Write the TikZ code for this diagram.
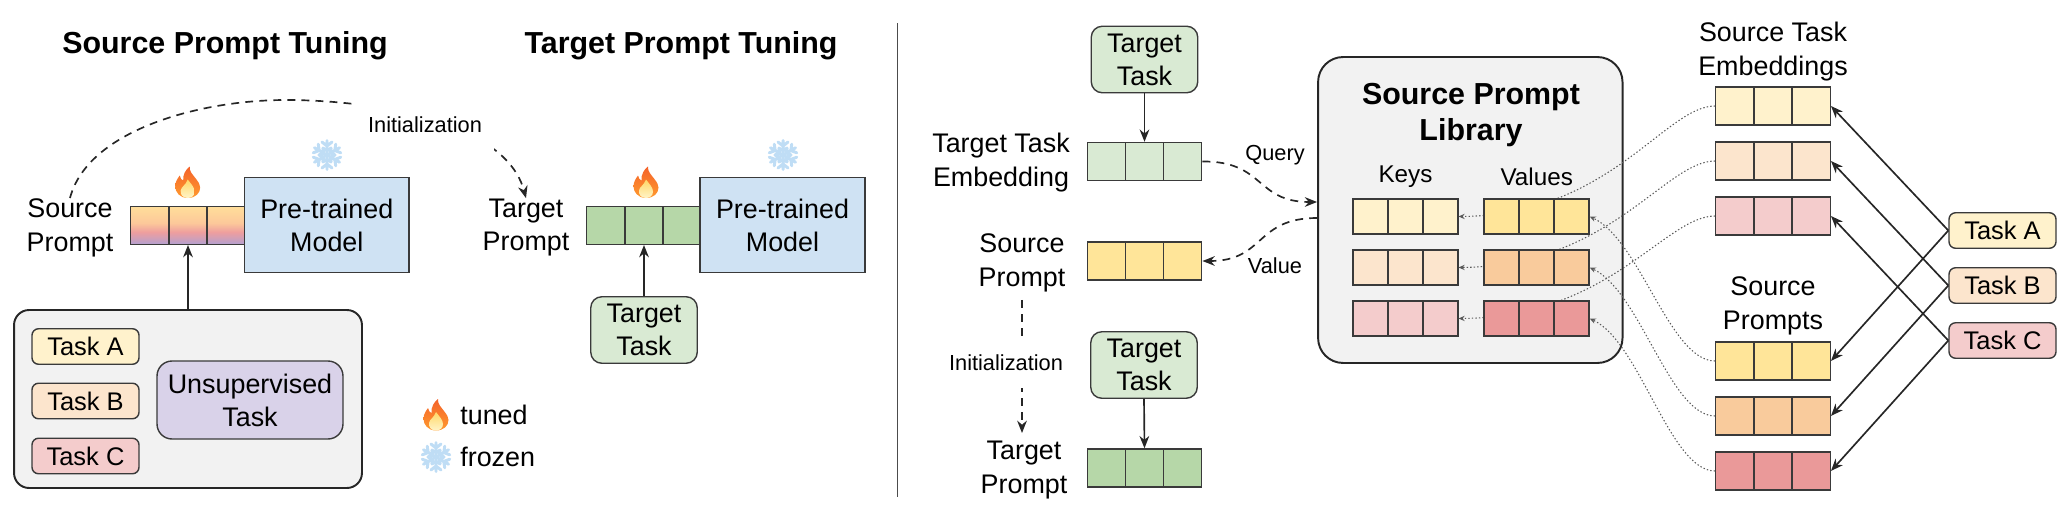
\documentclass[tikz,border=0pt]{standalone}
\usepackage{fontspec}
\setmainfont{Liberation Sans}
\usetikzlibrary{calc,arrows.meta}
\definecolor{lineclr}{HTML}{3A3A3A}
\definecolor{yellowlt}{HTML}{FFF2CC}
\definecolor{yellowdk}{HTML}{FFE599}
\definecolor{orangelt}{HTML}{FCE5CD}
\definecolor{orangedk}{HTML}{F9CB9C}
\definecolor{redlt}{HTML}{F4CCCC}
\definecolor{reddk}{HTML}{EA9999}
\definecolor{greenlt}{HTML}{D9EAD3}
\definecolor{greendk}{HTML}{B6D7A8}
\definecolor{bluelt}{HTML}{CFE2F3}
\definecolor{purplelt}{HTML}{D9D2E9}
\definecolor{panelclr}{HTML}{F2F2F2}
\definecolor{gradbottom}{HTML}{B4A0D0}
\definecolor{gradpink}{HTML}{EE9E9E}
\definecolor{gradmid}{HTML}{FCC89A}
\definecolor{gradtop}{HTML}{FFDE9A}
\definecolor{flameout}{HTML}{F4622A}
\definecolor{flamelow}{HTML}{FF9A2E}
\definecolor{flamein}{HTML}{FFD766}
\definecolor{flamecore}{HTML}{FFF4C8}
\definecolor{snowclr}{HTML}{BFDDF5}
\pgfdeclareverticalshading{sourcegrad}{100bp}{
    color(0bp)=(gradbottom);
    color(25bp)=(gradbottom);
    color(41bp)=(gradpink);
    color(53bp)=(gradmid);
    color(75bp)=(gradtop);
    color(100bp)=(gradtop)
}
\tikzset{
    txt/.style = {
        align = center,
        inner sep = 0pt,
        font = \fontsize{15.3}{19.3}\selectfont
    },
    small txt/.style = {
        align = center,
        inner sep = 0pt,
        font = \fontsize{12.4}{15}\selectfont
    },
    heading/.style = {
        align = center,
        inner sep = 0pt,
        font = \fontsize{17.3}{21}\selectfont\bfseries
    },
    tensor/.style = {
        shape = rectangle,
        draw  = lineclr,
        fill  = #1,
        line width = 0.8pt,
        minimum width = 2.29cm,
        minimum height = 0.76cm,
        inner sep = 0pt,
        path picture = {
            \draw [lineclr, line width = 0.8pt]
                ($(path picture bounding box.south west)!1/3!(path picture bounding box.south east)$) --
                ($(path picture bounding box.north west)!1/3!(path picture bounding box.north east)$)
                ($(path picture bounding box.south west)!2/3!(path picture bounding box.south east)$) --
                ($(path picture bounding box.north west)!2/3!(path picture bounding box.north east)$);
        }
    },
    lib tensor/.style = {
        tensor = #1,
        minimum width = 2.10cm,
        minimum height = 0.70cm
    },
    round box/.style = {
        shape = rectangle,
        align = center,
        draw  = lineclr,
        fill  = #1,
        line width = 0.8pt,
        rounded corners = 0.22cm,
        inner sep = 0pt,
        font = \fontsize{15.3}{18.8}\selectfont
    },
    task box/.style = {
        round box = #1,
        rounded corners = 0.13cm,
        minimum width = 2.14cm,
        minimum height = 0.71cm,
        font = \fontsize{14.5}{18}\selectfont
    },
    target box/.style = {
        round box = greenlt,
        minimum width = 2.13cm,
        minimum height = 1.33cm
    },
    model box/.style = {
        shape = rectangle,
        align = center,
        draw  = lineclr,
        fill  = bluelt,
        line width = 0.9pt,
        minimum width = 3.29cm,
        minimum height = 1.90cm,
        font = \fontsize{15.3}{18.8}\selectfont
    },
    panel/.style = {
        shape = rectangle,
        draw  = black!85,
        fill  = panelclr,
        line width = 1.1pt
    },
    arrow/.style = {
        -{Stealth[length=7pt,width=5.5pt]},
        line width = 0.95pt,
        draw = black!85
    },
    dash arrow/.style = {
        arrow,
        dash pattern = on 4.5pt off 3.5pt
    },
    dot arrow/.style = {
        -{Stealth[length=3.5pt,width=3pt]},
        line width = 0.6pt,
        draw = black!65,
        dash pattern = on 0.8pt off 1.2pt
    },
    flame/.pic = {
        \shade [bottom color = flamelow, top color = flameout]
            (0,15.5) .. controls (-8,15.5) and (-12.5,9.5) .. (-12.5,4)
            .. controls (-12.5,-1) and (-10,-4) .. (-8,-7)
            .. controls (-7.5,-4) and (-6,-2.5) .. (-4.5,-2)
            .. controls (-5,-8) and (-2,-13) .. (2,-16)
            .. controls (1.5,-11) and (5,-8) .. (8,-4)
            .. controls (11,0) and (12.5,2) .. (12.5,5)
            .. controls (12.5,10.5) and (8,15.5) .. (0,15.5) -- cycle;
        \shade [bottom color = flamecore, top color = flamein]
            (0,15.5) .. controls (-5,15.5) and (-7.5,12) .. (-7,8)
            .. controls (-6.5,4) and (-2,3) .. (0,-3)
            .. controls (3,1) and (7,5) .. (7,9)
            .. controls (7,13) and (4,15.5) .. (0,15.5) -- cycle;
    },
    flake/.pic = {
        \foreach \ang in {0,60,...,300} {
            \draw [rotate = \ang, snowclr, line width = 1.7pt, line cap = round]
                (0,0) -- (0,-14.5) (0,-9) -- (-5,-13) (0,-9) -- (5,-13)
                (0,-4) -- (-4,-7) (0,-4) -- (4,-7);
        }
    }
}

\begin{document}
\begin{tikzpicture}[x=0.02cm, y=-0.02cm]
    \useasboundingbox (0,0) rectangle (2065,507);

    % left half
    \node (title source) at (225,45.5) [heading] {Source Prompt Tuning};
    \node (title target) at (681,45.5) [heading] {Target Prompt Tuning};

    \node (source label) at (70,227.5) [txt] {Source\\Prompt};
    \node (source tensor) at (188,225.3) [tensor = white, shading = sourcegrad] {};
    \node (model a) at (326.8,225) [model box] {Pre-trained\\Model};
    \pic at (187.7,182.5) {flame};
    \pic at (327,155) {flake};

    \node (target label) at (526,227.5) [txt] {Target\\Prompt};
    \node (target tensor) at (644,225.3) [tensor = greendk] {};
    \node (model b) at (782.5,225) [model box] {Pre-trained\\Model};
    \pic at (646,182.5) {flame};
    \pic at (783,155) {flake};

    \draw [dash arrow] (source label.north) .. controls (88,130) and (200,100) .. (286,100)
        .. controls (370,100) and (505,120) .. (target label.north);
    \node (init a) at (425,125) [small txt, fill = white, minimum width = 2.76cm, minimum height = 1.04cm] {Initialization};

    \node (task panel) at (188,399) [panel, rounded corners = 0.3cm, minimum width = 6.96cm, minimum height = 3.56cm] {};
    \node (task a) at (85.5,346.5) [task box = yellowlt] {Task A};
    \node (task b) at (85.5,401) [task box = orangelt] {Task B};
    \node (task c) at (85.5,456) [task box = redlt] {Task C};
    \node (unsup) at (250,400) [round box = purplelt, rounded corners = 0.3cm, minimum width = 3.72cm, minimum height = 1.56cm] {Unsupervised\\Task};
    \node (target task a) at (644,330) [target box] {Target\\Task};

    \draw [arrow] (task panel.north -| source tensor) -- (source tensor.south);
    \draw [arrow] (target task a.north) -- (target tensor.south);

    \pic at (436,415) {flame};
    \node (tuned) at (460,415) [txt, anchor = west] {tuned};
    \pic at (436,457) {flake};
    \node (frozen) at (460,457) [txt, anchor = west] {frozen};

    % divider
    \coordinate (divider top) at (897.5,23);
    \coordinate (divider bottom) at (897.5,497);
    \draw [black!70, line width = 0.9pt] (divider top) -- (divider bottom);

    % query side
    \node (target task b) at (1144.5,59.5) [target box] {Target\\Task};
    \node (target emb) at (1144.5,161.5) [tensor = greenlt] {};
    \node (target emb label) at (1001,163) [txt] {Target Task\\Embedding};
    \node (found prompt) at (1144.5,261) [tensor = yellowdk] {};
    \node (found label) at (1022,262.5) [txt] {Source\\Prompt};
    \node (target task c) at (1144,365) [target box] {Target\\Task};
    \node (tuned prompt) at (1144.5,468) [tensor = greendk] {};
    \node (tuned label) at (1024,470) [txt] {Target\\Prompt};

    \draw [arrow] (target task b.south) -- (target emb.north);
    \draw [arrow] (target task c.south) -- (tuned prompt.north);
    \draw [dash arrow] (found label.south) ++(0,8) coordinate (init start) -- (1022,433);
    \node (init b) at (1006,363) [small txt, fill = white, minimum height = 1cm, minimum width = 2.3cm] {Initialization};

    % library
    \node (library) at (1470.3,210) [panel, rounded corners = 0.5cm, minimum width = 6.09cm, minimum height = 6.12cm] {};
    \node (library title) at (1471,115) [heading] {Source Prompt\\Library};
    \node (keys) at (1405.5,177) [txt, font = \fontsize{13.8}{17}\selectfont] {Keys};
    \node (values) at (1536.7,177) [txt, font = \fontsize{13.8}{17}\selectfont] {Values};

    \node (key a) at (1405.3,216.5) [lib tensor = yellowlt] {};
    \node (key b) at (1405.3,267.5) [lib tensor = orangelt] {};
    \node (key c) at (1405.3,318.5) [lib tensor = redlt] {};

    % source tasks
    \node (emb label) at (1773,52) [txt] {Source Task\\Embeddings};
    \node (emb a) at (1773,106) [tensor = yellowlt] {};
    \node (emb b) at (1773,161) [tensor = orangelt] {};
    \node (emb c) at (1773,216) [tensor = redlt] {};
    \node (prompts label) at (1773,306) [txt] {Source\\Prompts};
    \node (prompt a) at (1773,361) [tensor = yellowdk] {};
    \node (prompt b) at (1773,416) [tensor = orangedk] {};
    \node (prompt c) at (1773,471) [tensor = reddk] {};

    \node (src a) at (2002.5,230.5) [task box = yellowlt] {Task A};
    \node (src b) at (2002.5,285.5) [task box = orangelt] {Task B};
    \node (src c) at (2002.5,340.5) [task box = redlt] {Task C};

    % these pass behind the value rows
    \draw [dot arrow] (emb a.west) .. controls (1665,106) and (1610,215) .. (key a.east);
    \draw [dot arrow] (emb b.west) .. controls (1665,161) and (1610,266) .. (key b.east);
    \draw [dot arrow] (emb c.west) .. controls (1665,216) and (1610,317) .. (key c.east);

    \node (value a) at (1536.5,216.5) [lib tensor = yellowdk] {};
    \node (value b) at (1536.5,267.5) [lib tensor = orangedk] {};
    \node (value c) at (1536.5,318.5) [lib tensor = reddk] {};

    \draw [dot arrow] (prompt a.west) .. controls (1670,361) and (1640,240) .. (value a.east);
    \draw [dot arrow] (prompt b.west) .. controls (1670,416) and (1640,291) .. (value b.east);
    \draw [dot arrow] (prompt c.west) .. controls (1670,471) and (1640,342) .. (value c.east);

    \draw [arrow] (src a.west) -- (emb a.east);
    \draw [arrow] (src b.west) -- (emb b.east);
    \draw [arrow] (src c.west) -- (emb c.east);
    \draw [arrow] (src a.west) -- (prompt a.east);
    \draw [arrow] (src b.west) -- (prompt b.east);
    \draw [arrow] (src c.west) -- (prompt c.east);

    \draw [dash arrow] (target emb.east) .. controls (1265,161) and (1255,202) .. (library.west |- 0,202);
    \draw [dash arrow] (library.west |- 0,218) .. controls (1255,218) and (1265,261) .. (found prompt.east);
    \node (query) at (1275,155) [small txt] {Query};
    \node (value) at (1275,266) [small txt] {Value};
\end{tikzpicture}
\end{document}
